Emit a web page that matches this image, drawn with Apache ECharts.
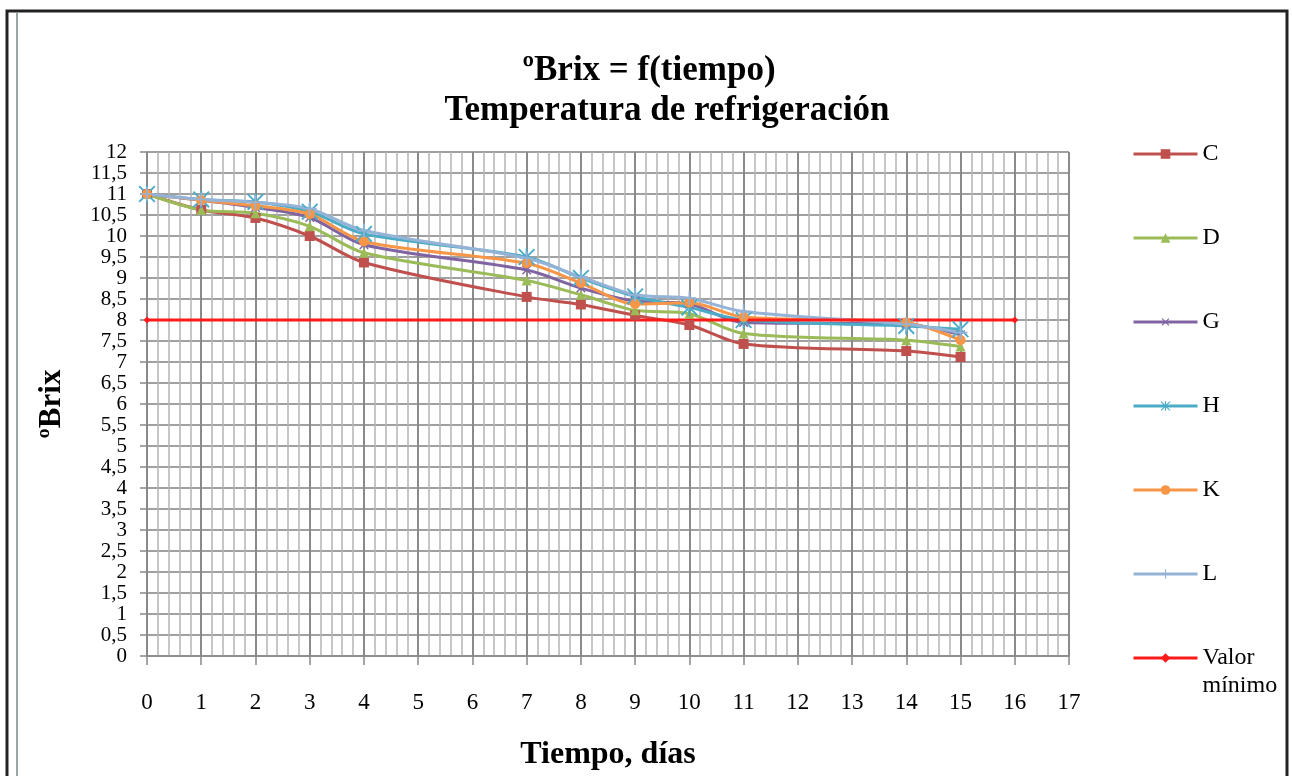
<!DOCTYPE html>
<html>
<head>
<meta charset="utf-8">
<script src="https://cdn.jsdelivr.net/npm/echarts@6/dist/echarts.min.js"></script>
<style>
  html, body { margin: 0; padding: 0; background: #fff; }
  #chart { width: 1292px; height: 776px; }
</style>
</head>
<body>
<div id="chart"></div>
<script>
// days on which samples were measured
var dias = [0, 1, 2, 3, 4, 7, 8, 9, 10, 11, 14, 15];

// ºBrix per sample
var brixC = [11, 10.62, 10.43, 10.0, 9.37, 8.55, 8.37, 8.11, 7.88, 7.43, 7.26, 7.12];
var brixD = [11, 10.62, 10.54, 10.23, 9.6, 8.94, 8.6, 8.23, 8.15, 7.68, 7.52, 7.37];
var brixG = [11, 10.85, 10.68, 10.44, 9.79, 9.19, 8.76, 8.45, 8.38, 7.94, 7.9, 7.65];
var brixH = [11, 10.87, 10.81, 10.58, 10.05, 9.5, 9.0, 8.56, 8.3, 8.0, 7.86, 7.78];
var brixK = [11, 10.85, 10.72, 10.52, 9.87, 9.35, 8.88, 8.38, 8.41, 8.07, 7.94, 7.52];
var brixL = [11, 10.87, 10.8, 10.65, 10.13, 9.47, 9.03, 8.6, 8.52, 8.2, 7.9, 7.7];

// minimum value line
var minDias = [0, 16];
var minValor = [8, 8];

var nombres = ['C', 'D', 'G', 'H', 'K', 'L'];
var valores = [brixC, brixD, brixG, brixH, brixK, brixL];
var colores = ['#C0504D', '#9BBB59', '#8064A2', '#4BACC6', '#F79646', '#95B3D7'];

var plus = 'path://M4.4,0H5.6V4.4H10V5.6H5.6V10H4.4V5.6H0V4.4H4.4Z';
var star = 'path://M4.4,0H5.6V10H4.4Z M0,0.8L0.8,0L10,9.2L9.2,10Z M10,0.8L9.2,0L0,9.2L0.8,10Z';
var simbolos = ['rect', 'triangle', plus, star, 'circle', plus];
var tamanos = [10, 10, 12, 17, 10, 14];
var rotar = [0, 0, 45, 0, 0, 0];

function pares(xs, ys) {
    var out = [];
    for (var i = 0; i < xs.length; i++) out.push([xs[i], ys[i]]);
    return out;
}

var fuente = '"Liberation Serif", "Times New Roman", serif';

var chart = echarts.init(document.getElementById('chart'));

var series = [];
for (var i = 0; i < nombres.length; i++) {
    series.push({
        name: nombres[i],
        type: 'line',
        smooth: 0.3,
        data: pares(dias, valores[i]),
        symbol: simbolos[i],
        symbolSize: tamanos[i],
        symbolRotate: rotar[i],
        lineStyle: { color: colores[i], width: 3 },
        itemStyle: { color: colores[i] }
    });
}
series.push({
    name: 'Valor mínimo',
    type: 'line',
    data: pares(minDias, minValor),
    symbol: 'diamond',
    symbolSize: 7,
    lineStyle: { color: '#FF1A1A', width: 3 },
    itemStyle: { color: '#FF1A1A' }
});

var leyenda = {
    orient: 'vertical',
    left: 1127,
    itemWidth: 64,
    itemHeight: 12,
    lineStyle: { width: 3 },
    textStyle: { fontFamily: fuente, fontSize: 24, color: '#000', lineHeight: 28 }
};

var tituloEstilo = { fontFamily: fuente, fontWeight: 'bold', fontSize: 35, lineHeight: 40, color: '#000' };

var option = {
    animation: false,
    textStyle: { fontFamily: fuente },
    title: {
        text: '{a|ºBrix = f(tiempo)}\n{b|Temperatura de refrigeración}',
        left: 662,
        textAlign: 'center',
        top: 46,
        textStyle: {
            fontFamily: fuente,
            fontWeight: 'bold',
            fontSize: 35,
            lineHeight: 40,
            color: '#000',
            rich: {
                a: Object.assign({ padding: [0, 36, 0, 0] }, tituloEstilo),
                b: tituloEstilo
            }
        }
    },
    legend: [
        Object.assign({}, leyenda, {
            top: 135,
            itemGap: 56,
            data: nombres
        }),
        Object.assign({}, leyenda, {
            top: 611,
            data: ['Valor mínimo'],
            formatter: function () { return '\nValor\nmínimo'; }
        })
    ],
    grid: { left: 147, right: 223, top: 152, bottom: 113 },
    xAxis: {
        type: 'value',
        min: 0,
        max: 17,
        interval: 1,
        name: 'Tiempo, días',
        nameLocation: 'middle',
        nameGap: 83,
        nameTextStyle: { fontFamily: fuente, fontWeight: 'bold', fontSize: 32, color: '#000' },
        axisLine: { lineStyle: { color: '#888', width: 1.5 } },
        axisTick: { show: true, length: 9, lineStyle: { color: '#888', width: 1.5 } },
        axisLabel: { fontFamily: fuente, fontSize: 23, color: '#000', margin: 35, showMinLabel: true, showMaxLabel: true },
        splitLine: { show: true, lineStyle: { color: '#8A8A8A', width: 2 } },
        minorTick: { show: false, splitNumber: 5 },
        minorSplitLine: { show: true, lineStyle: { color: '#B4B4B4', width: 1.5 } }
    },
    yAxis: {
        type: 'value',
        min: 0,
        max: 12,
        interval: 0.5,
        name: 'ºBrix',
        nameLocation: 'middle',
        nameRotate: 90,
        nameGap: 80,
        nameTextStyle: { fontFamily: fuente, fontWeight: 'bold', fontSize: 31, color: '#000' },
        axisLine: { show: true, lineStyle: { color: '#888', width: 1.5 } },
        axisTick: { show: true, length: 7, lineStyle: { color: '#888', width: 1.5 } },
        axisLabel: {
            fontFamily: fuente, fontSize: 21, color: '#000', margin: 20,
            showMinLabel: true, showMaxLabel: true,
            formatter: function (v) { return String(v).replace('.', ','); }
        },
        splitLine: { show: true, lineStyle: { color: '#A0A0A0', width: 2 } }
    },
    graphic: [
        { type: 'rect', shape: { x: 7, y: 11, width: 1280, height: 820 }, style: { fill: 'none', stroke: '#222', lineWidth: 3 } },
        { type: 'line', shape: { x1: 17, y1: 13, x2: 17, y2: 776 }, style: { stroke: '#9AA5A5', lineWidth: 2 } }
    ],
    series: series
};

chart.setOption(option);
</script>
</body>
</html>
